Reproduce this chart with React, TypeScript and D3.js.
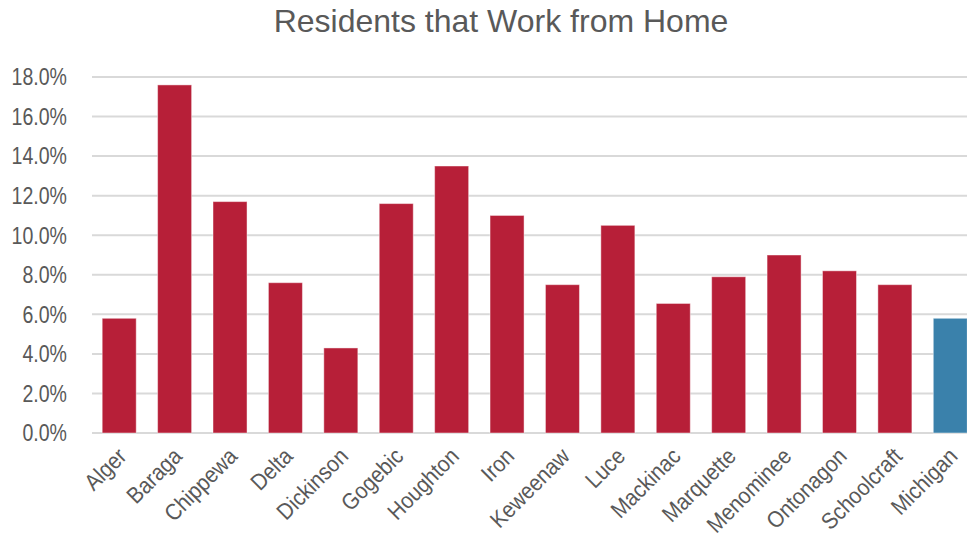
import React from "react";
import * as d3 from "d3";

const categories = ["Alger","Baraga","Chippewa","Delta","Dickinson","Gogebic","Houghton","Iron","Keweenaw","Luce","Mackinac","Marquette","Menominee","Ontonagon","Schoolcraft","Michigan"];
const values = [5.8,17.6,11.7,7.6,4.3,11.6,13.5,11.0,7.5,10.5,6.55,7.9,9.0,8.2,7.5,5.8];
const highlight = ["Michigan"];
const yTicks = [0,2,4,6,8,10,12,14,16,18];

const W = 967, H = 537;
const font = "'Liberation Sans', Arial, sans-serif";
const squeeze = 0.85;
const labelSqueeze = 0.9;

export default function App() {
  const x = d3.scaleBand<string>().domain(categories).range([91.5, 978]).paddingInner(0.386).paddingOuter(0.193);
  const y = d3.scaleLinear().domain([0, 18]).range([433, 77]);
  return (
    <svg width={W} height={H} style={{ position: "absolute", left: 0, top: 0, background: "#fff" }}>
      <text x={501} y={32} textAnchor="middle" fontFamily={font} fontSize={32} fill="#595959">Residents that Work from Home</text>
      {yTicks.map(t => (
        <g key={t}>
          <line x1={92} x2={W} y1={y(t)} y2={y(t)} stroke="#d9d9d9" strokeWidth={2} />
          <text transform={`translate(67,${y(t)}) scale(${squeeze},1)`} dy="0.36em" textAnchor="end" fontFamily={font} fontSize={23} fill="#595959">{d3.format(".1f")(t) + "%"}</text>
        </g>
      ))}
      {categories.map((c, i) => (
        <rect key={c} x={x(c)} y={y(values[i])} width={x.bandwidth()} height={y(0) - y(values[i])}
          fill={highlight.includes(c) ? "#3A81AB" : "#B71F38"} stroke="rgba(255,255,255,0.45)" strokeWidth={1} />
      ))}
      {categories.map(c => {
        const cx = (x(c) as number) + x.bandwidth() / 2 + 3;
        return (
          <text key={c} transform={`translate(${cx},452) rotate(-45) scale(${labelSqueeze},1)`} textAnchor="end" dy="0.35em"
            fontFamily={font} fontSize={23} fill="#595959">{c}</text>
        );
      })}
    </svg>
  );
}
